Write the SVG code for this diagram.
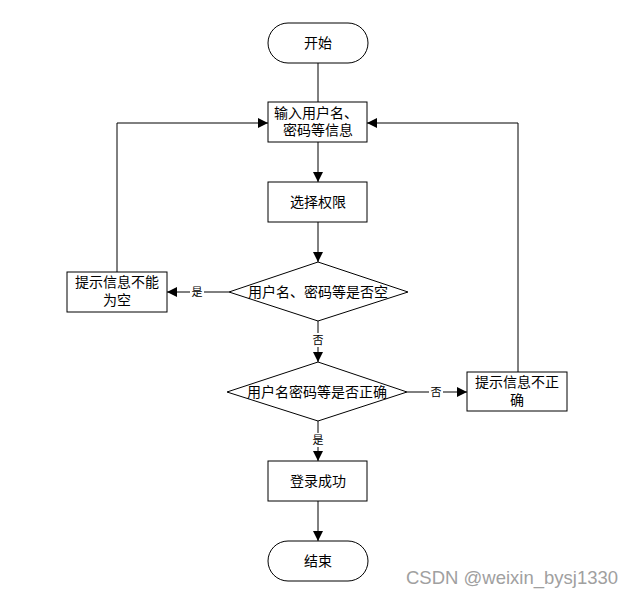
<svg xmlns="http://www.w3.org/2000/svg" width="636" height="595" viewBox="0 0 636 595">
<style>
.s{fill:#fff;stroke:#000;stroke-width:1}
.t{font-family:"Liberation Serif","Noto Sans CJK SC",serif;font-size:14px;fill:#000;text-anchor:middle}
.l{font-family:"Liberation Serif","Noto Sans CJK SC",serif;font-size:11px;fill:#000;text-anchor:middle}
.c{fill:none;stroke:#000;stroke-width:1}
.lb{fill:#fff}
</style>
<defs>
<marker id="a" viewBox="0 0 10 10" refX="10" refY="5" markerWidth="10" markerHeight="10" markerUnits="userSpaceOnUse" orient="auto">
<path d="M0,0 L10,5 L0,10 z" fill="#000"/>
</marker>
</defs>
<rect width="636" height="595" fill="#fff"/>
<g id="connectors">
<path class="c" d="M318,63 V102"/>
<path class="c" d="M318,142 V182" marker-end="url(#a)"/>
<path class="c" d="M318,222 V262" marker-end="url(#a)"/>
<path class="c" d="M229,292 H167" marker-end="url(#a)"/>
<path class="c" d="M117,272 V123 H268" marker-end="url(#a)"/>
<path class="c" d="M318,321 V362" marker-end="url(#a)"/>
<path class="c" d="M407,392 H467" marker-end="url(#a)"/>
<path class="c" d="M518,372 V123 H367" marker-end="url(#a)"/>
<path class="c" d="M318,421 V461" marker-end="url(#a)"/>
<path class="c" d="M318,501 V541" marker-end="url(#a)"/>
<rect class="lb" x="190" y="285" width="14" height="14"/>
<text class="l" x="197" y="296">是</text>
<rect class="lb" x="311" y="333" width="14" height="14"/>
<text class="l" x="318" y="344">否</text>
<rect class="lb" x="429" y="385" width="14" height="14"/>
<text class="l" x="436" y="396">否</text>
<rect class="lb" x="311" y="433" width="14" height="14"/>
<text class="l" x="318" y="444">是</text>
</g>
<g id="start">
<rect class="s" x="268" y="23" width="100" height="40" rx="20" ry="20"/>
<text class="t" x="318" y="48">开始</text>
</g>
<g id="input">
<rect class="s" x="268" y="102" width="99" height="40"/>
<text class="t" x="316" y="118">输入用户名、</text>
<text class="t" x="318" y="135">密码等信息</text>
</g>
<g id="role">
<rect class="s" x="268" y="182" width="99" height="40"/>
<text class="t" x="318" y="207">选择权限</text>
</g>
<g id="check-empty">
<polygon class="s" points="318,262 408,292 318,321 229,292"/>
<text class="t" x="318" y="297">用户名、密码等是否空</text>
</g>
<g id="msg-empty">
<rect class="s" x="67" y="272" width="100" height="40"/>
<text class="t" x="117" y="287">提示信息不能</text>
<text class="t" x="117" y="305">为空</text>
</g>
<g id="check-correct">
<polygon class="s" points="318,362 407,392 318,421 227,392"/>
<text class="t" x="317" y="397">用户名密码等是否正确</text>
</g>
<g id="msg-wrong">
<rect class="s" x="467" y="372" width="100" height="39"/>
<text class="t" x="517" y="387">提示信息不正</text>
<text class="t" x="517" y="405">确</text>
</g>
<g id="success">
<rect class="s" x="268" y="461" width="99" height="40"/>
<text class="t" x="318" y="486">登录成功</text>
</g>
<g id="end">
<rect class="s" x="268" y="541" width="100" height="40" rx="20" ry="20"/>
<text class="t" x="318" y="566">结束</text>
</g>
<text x="512" y="584" font-family="Liberation Sans, Arial, sans-serif" font-size="18.5" fill="#a0a0a0" text-anchor="middle">CSDN @weixin_bysj1330</text>
</svg>
